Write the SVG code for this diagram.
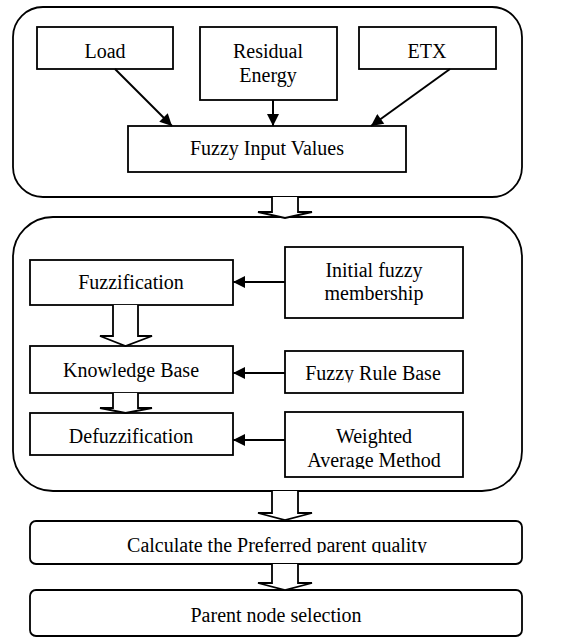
<svg xmlns="http://www.w3.org/2000/svg" width="567" height="637" viewBox="0 0 567 637">
<style>
.box{fill:#fff;stroke:#000;stroke-width:1.8}
.grp{fill:#fff;stroke:#000;stroke-width:1.8}
.blk{fill:#fff;stroke:#000;stroke-width:1.8;stroke-linejoin:miter}
.ln{stroke:#000;stroke-width:2;fill:none}
.t{font-size:20px;fill:#000;text-anchor:middle}
</style>
<defs>
<marker id="ah" viewBox="0 0 10 10" refX="10" refY="5" markerWidth="14" markerHeight="12" markerUnits="userSpaceOnUse" orient="auto">
<path d="M0,0 L10,5 L0,10 z" fill="#000"/>
</marker>
<clipPath id="c1"><rect x="280" y="340" width="190" height="42.5"/></clipPath>
<clipPath id="c2"><rect x="280" y="410" width="190" height="59"/></clipPath>
<clipPath id="c3"><rect x="30" y="520" width="500" height="33"/></clipPath>
</defs>
<rect width="567" height="637" fill="#fff"/>
<g font-family="Liberation Serif, Times New Roman, DejaVu Serif, serif">
<g id="group1"><rect class="grp" x="13" y="7" width="509" height="190" rx="30" ry="30"/></g>
<g id="group2"><rect class="grp" x="13" y="217" width="509" height="274" rx="40" ry="40"/></g>
<g id="load"><rect class="box" x="37" y="27" width="136" height="42"/><text class="t" x="105" y="58">Load</text></g>
<g id="residual"><rect class="box" x="200" y="27" width="137" height="73"/><text class="t" x="268" y="58">Residual</text><text class="t" x="268" y="82">Energy</text></g>
<g id="etx"><rect class="box" x="359" y="27" width="137" height="42"/><text class="t" x="427" y="58">ETX</text></g>
<g id="fuzzyinput"><rect class="box" x="128" y="126" width="278" height="46"/><text class="t" x="267" y="155">Fuzzy Input Values</text></g>
<g id="fuzzification"><rect class="box" x="30" y="260" width="203" height="45"/><text class="t" x="131" y="289">Fuzzification</text></g>
<g id="initial"><rect class="box" x="285" y="247" width="178" height="71"/><text class="t" x="374" y="277">Initial fuzzy</text><text class="t" x="374" y="300">membership</text></g>
<g id="knowledge"><rect class="box" x="30" y="346" width="203" height="47"/><text class="t" x="131" y="377">Knowledge Base</text></g>
<g id="rulebase"><rect class="box" x="285" y="351" width="178" height="42"/><text class="t" x="373" y="380" clip-path="url(#c1)">Fuzzy Rule Base</text></g>
<g id="defuzz"><rect class="box" x="30" y="413" width="203" height="42"/><text class="t" x="131" y="443">Defuzzification</text></g>
<g id="weighted"><rect class="box" x="285" y="412" width="178" height="65"/><text class="t" x="374" y="443">Weighted</text><text class="t" x="374" y="467" clip-path="url(#c2)">Average Method</text></g>
<g id="calculate"><rect class="box" x="30" y="521" width="492" height="43" rx="6" ry="6"/><text class="t" x="277" y="552" clip-path="url(#c3)">Calculate the Preferred parent quality</text></g>
<g id="parent"><rect class="box" x="30" y="590" width="492" height="46" rx="6" ry="6"/><text class="t" x="276" y="622">Parent node selection</text></g>
<g id="connectors">
<line class="ln" x1="115" y1="69" x2="172" y2="126" marker-end="url(#ah)"/>
<line class="ln" x1="273" y1="100" x2="273" y2="126" marker-end="url(#ah)"/>
<line class="ln" x1="450" y1="69" x2="371" y2="126" marker-end="url(#ah)"/>
<line class="ln" x1="285" y1="282" x2="233" y2="282" marker-end="url(#ah)"/>
<line class="ln" x1="285" y1="373" x2="233" y2="373" marker-end="url(#ah)"/>
<line class="ln" x1="285" y1="440" x2="233" y2="440" marker-end="url(#ah)"/>
<path class="blk" d="M272,197 L272,212 L258,212 L285,218 L312,212 L298,212 L298,197"/>
<path class="blk" d="M113,305 L113,336 L100,336 L125.5,346 L152,336 L138,336 L138,305"/>
<path class="blk" d="M113,393 L113,408 L100,408 L125.5,413 L152,408 L138,408 L138,393"/>
<path class="blk" d="M272,491 L272,513 L258,513 L285,520 L312,513 L298,513 L298,491"/>
<path class="blk" d="M272,564 L272,583 L258,583 L285,590 L312,583 L298,583 L298,564"/>
</g>
</g>
</svg>
